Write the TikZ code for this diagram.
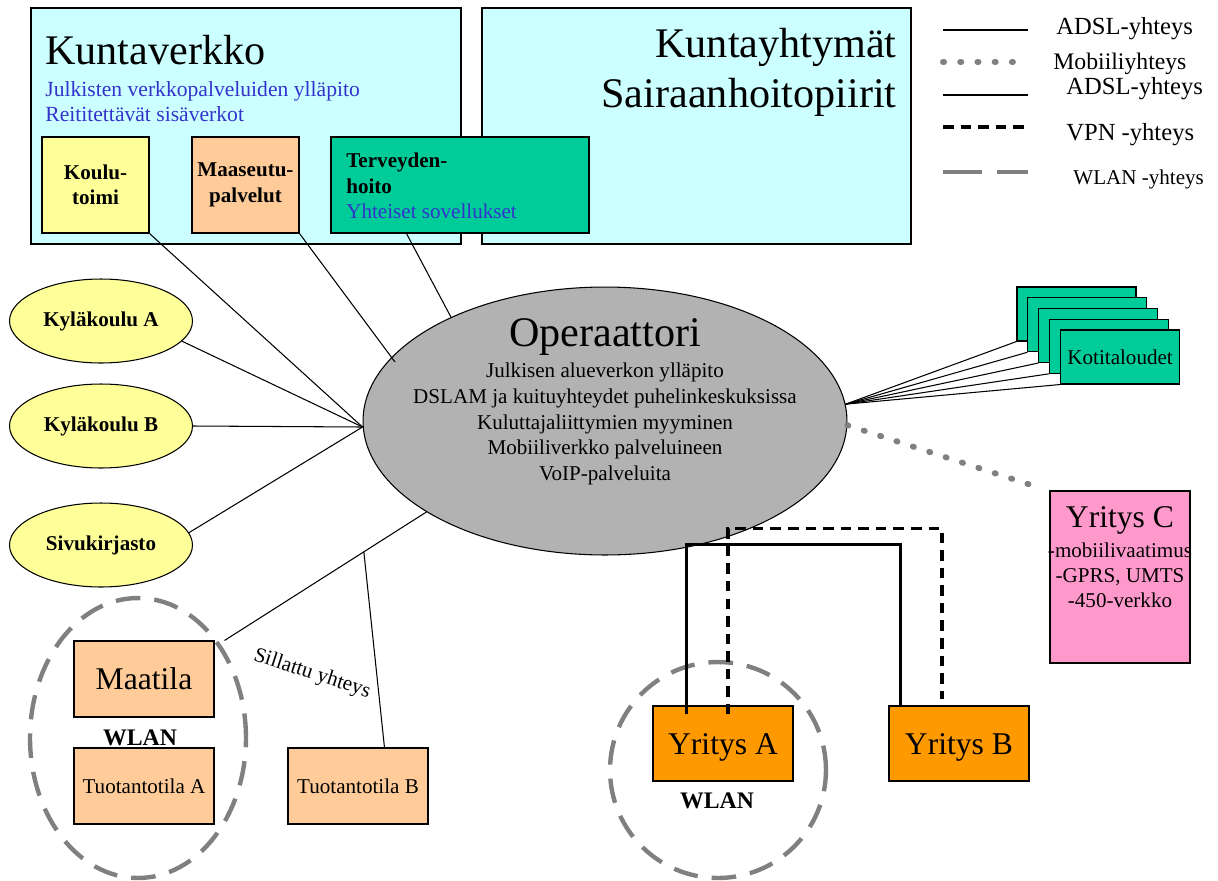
\documentclass[tikz,border=0pt]{standalone}
\usepackage{fontspec}
\setmainfont{Liberation Serif}
\usetikzlibrary{shapes.geometric,fit,calc}

\definecolor{kuntacyan}{HTML}{CCFFFF}
\definecolor{keltainen}{HTML}{FFFF99}
\definecolor{persikka}{HTML}{FFCC99}
\definecolor{vihrea}{HTML}{00CC99}
\definecolor{harmaa}{HTML}{B2B2B2}
\definecolor{oranssi}{HTML}{FF9900}
\definecolor{pinkki}{HTML}{FF99CC}
\definecolor{sininen}{HTML}{3333CC}
\definecolor{viiva}{HTML}{808080}

\newcommand{\fBig}{\fontsize{24}{28}\selectfont}
\newcommand{\fMid}{\fontsize{18}{21}\selectfont}
\newcommand{\fLeg}{\fontsize{14}{16}\selectfont}
\newcommand{\fTxt}{\fontsize{12}{14.5}\selectfont}
\newcommand{\fSin}{\fontsize{12.3}{14.5}\selectfont}
\newcommand{\fWlan}{\fontsize{13.5}{16}\selectfont}

\begin{document}
\begin{tikzpicture}[x=0.02cm,y=-0.02cm,
    box/.style={draw,inner sep=0pt,line width=0.6pt},
    kyla/.style={ellipse,draw,fill=keltainen,line width=0.6pt,inner sep=0pt,
      minimum width=3.66cm,minimum height=1.68cm,font=\fTxt\bfseries},
    adsl/.style={line width=0.6pt},
    adslpaksu/.style={line width=1.7pt},
    vpn/.style={line width=1.8pt,dash pattern=on 6pt off 4pt},
    mobiili/.style={viiva,line width=3.4pt,line cap=round,dash pattern=on 0.6pt off 9.2pt},
    wlan/.style={viiva,line width=2.5pt,dash pattern=on 14pt off 8pt},
    wlanleg/.style={viiva,line width=2.8pt,dash pattern=on 22pt off 9pt},
    legtxt/.style={anchor=base west,font=\fLeg,inner sep=0pt}]
  \useasboundingbox (0,0) rectangle (1218,880);

  % kuntaverkko ja kuntayhtymat
  \node[box,fill=kuntacyan,fit={(31,8) (461,244)}] (kunta) {};
  \node[box,fill=kuntacyan,fit={(482,8) (911,244)}] (yhtyma) {};
  \node[anchor=base west,inner sep=0pt,font=\fBig] (kuntaT) at (45,64) {Kuntaverkko};
  \node[anchor=base west,inner sep=0pt,font=\fSin,text=sininen] (kuntaT1) at (45,96) {Julkisten verkkopalveluiden ylläpito};
  \node[anchor=base west,inner sep=0pt,font=\fSin,text=sininen] (kuntaT2) at (45,121) {Reititettävät sisäverkot};
  \node[anchor=base east,inner sep=0pt,font=\fBig] (yhtymaT1) at (897,57) {Kuntayhtymät};
  \node[anchor=base east,inner sep=0pt,font=\fBig] (yhtymaT2) at (897,107) {Sairaanhoitopiirit};

  \node[box,fill=keltainen,fit={(42,137) (149,233)}] (koulu) {};
  \node[align=center,font=\fTxt\bfseries] (kouluT) at (koulu) {Koulu-\\toimi};
  \node[box,fill=persikka,fit={(192,137) (299,233)}] (maaseutu) {};
  \node[align=center,font=\fTxt\bfseries] (maaseutuT) at (maaseutu) {Maaseutu-\\palvelut};
  \node[box,fill=vihrea,fit={(331,137) (589,233)}] (terv) {};
  \node[anchor=base west,inner sep=0pt,font=\fTxt\bfseries] (tervT1) at (346,167) {Terveyden-};
  \node[anchor=base west,inner sep=0pt,font=\fTxt\bfseries] (tervT2) at (346,193) {hoito};
  \node[anchor=base west,inner sep=0pt,font=\fTxt,text=sininen] (tervT3) at (346,218) {Yhteiset sovellukset};

  % selite
  \foreach \n/\y/\tyyli in {a/30/adsl, b/62/mobiili, c/95/adslpaksu, d/127/vpn, e/172/wlanleg}{
    \coordinate (leg\n1) at (943,\y);
    \coordinate (leg\n2) at (1028,\y);
    \draw[\tyyli] (leg\n1) -- (leg\n2);
  }
  \node[legtxt] (legaT) at (1056,34) {ADSL-yhteys};
  \node[legtxt,font=\fontsize{13.5}{16}\selectfont] (legbT) at (1053,69) {Mobiiliyhteys};
  \node[legtxt] (legcT) at (1066,94) {ADSL-yhteys};
  \node[legtxt] (legdT) at (1066,140) {VPN -yhteys};
  \node[legtxt,font=\fTxt] (legeT) at (1073,184) {WLAN -yhteys};

  % operaattori
  \node[ellipse,draw,fill=harmaa,line width=0.6pt,inner sep=0pt,
    minimum width=9.68cm,minimum height=5.36cm] (oper) at (605,421) {};
  \node[anchor=base,inner sep=0pt,font=\fBig] (operT) at (605,346) {Operaattori};
  \foreach \rivi [count=\i] in {Julkisen alueverkon ylläpito, DSLAM ja kuituyhteydet puhelinkeskuksissa,
      Kuluttajaliittymien myyminen, Mobiiliverkko palveluineen, VoIP-palveluita}
    \node[anchor=base,inner sep=0pt,font=\fTxt] (operR\i) at (605,{352+25.7*\i}) {\rivi};

  \coordinate (operW) at ($(oper.west)+(0,6)$);
  \coordinate (maaP) at ($(oper.center)+(-210,-59)$);
  \draw[adsl] (koulu.south east) -- (operW);
  \draw[adsl] (maaseutu.south east) -- (maaP);
  \draw[adsl] ($(terv.south west)+(76,0)$) -- (oper.146);

  % kylat
  \node[kyla] (kylaA) at (101,321) {Kyläkoulu A};
  \node[kyla] (kylaB) at (101,426) {Kyläkoulu B};
  \node[kyla] (sivu) at (101,545) {Sivukirjasto};
  \draw[adsl] (kylaA.-14) -- (operW);
  \draw[adsl] (kylaB.east) -- (operW);
  \draw[adsl] (sivu.8) -- (operW);

  % maatilat
  \node[wlan,ellipse,draw,inner sep=0pt,minimum width=4.32cm,minimum height=5.6cm] (wlanV) at (138,738) {};
  \node[box,fill=persikka,fit={(74,641) (214,717)}] (maatila) {};
  \node[font=\fMid] (maatilaT) at (maatila) {Maatila};
  \node[box,fill=persikka,fit={(74,748) (214,824)}] (tuotA) {};
  \node[font=\fTxt] (tuotAT) at (tuotA) {Tuotantotila A};
  \node[box,fill=persikka,fit={(288,748) (428,824)}] (tuotB) {};
  \node[font=\fTxt] (tuotBT) at (tuotB) {Tuotantotila B};
  \node[font=\fWlan\bfseries] (wlanVT) at (140,738) {WLAN};
  \draw[adsl] ($(maatila.north east)+(10,0)$) -- coordinate[pos=0.69] (silta) (oper.207);
  \draw[adsl] (silta) -- ($(tuotB.north west)+(97,0)$);
  \node[rotate=-18,font=\fTxt,inner sep=1pt] (siltaT) at (312,674) {Sillattu yhteys};

  % yritykset
  \node[wlan,circle,draw,inner sep=0pt,minimum size=4.32cm] (wlanY) at (718,770) {};
  \node[box,fill=oranssi,fit={(653,706) (793,781)}] (yrA) {};
  \node[font=\fMid] (yrAT) at ($(yrA)+(0,4)$) {Yritys A};
  \node[box,fill=oranssi,fit={(889,706) (1029,781)}] (yrB) {};
  \node[font=\fMid] (yrBT) at ($(yrB)+(0,4)$) {Yritys B};
  \node[font=\fWlan\bfseries] (wlanYT) at (717,801) {WLAN};
  \draw[adslpaksu] ($(yrA.north)+(-36.5,9)$) -- ++(0,-170) -| ($(yrB.north)+(-59,0)$);
  \draw[vpn] ($(yrA.north)+(5,9)$) -- ++(0,-186) -| ($(yrB.north)+(-17,-6)$);

  \node[box,fill=pinkki,fit={(1050,491) (1190,663)}] (yrC) {};
  \node[anchor=base,inner sep=0pt,font=\fMid] (yrCT) at (1120,527) {Yritys C};
  \foreach \rivi [count=\i] in {-mobiilivaatimus, {-GPRS, UMTS}, -450-verkko}
    \node[anchor=base,inner sep=0pt,font=\fTxt] (yrCR\i) at (1120,{532+25*\i}) {\rivi};
  \coordinate (mobPaa) at ($(yrC.north west)+(-17,-5)$);
  \draw[mobiili] (oper.-1) -- (mobPaa);

  % kotitaloudet
  \foreach \i in {0,...,4}{
    \node[box,fill=vihrea,fit={({1017+10.9*\i},{287+10.75*\i}) ({1136+10.9*\i},{341+10.75*\i})}] (koti\i) {};
    \draw[adsl] (oper.4) -- (koti\i.south west);
  }
  \node[font=\fTxt] (kotiT) at (koti4) {Kotitaloudet};
\end{tikzpicture}
\end{document}
